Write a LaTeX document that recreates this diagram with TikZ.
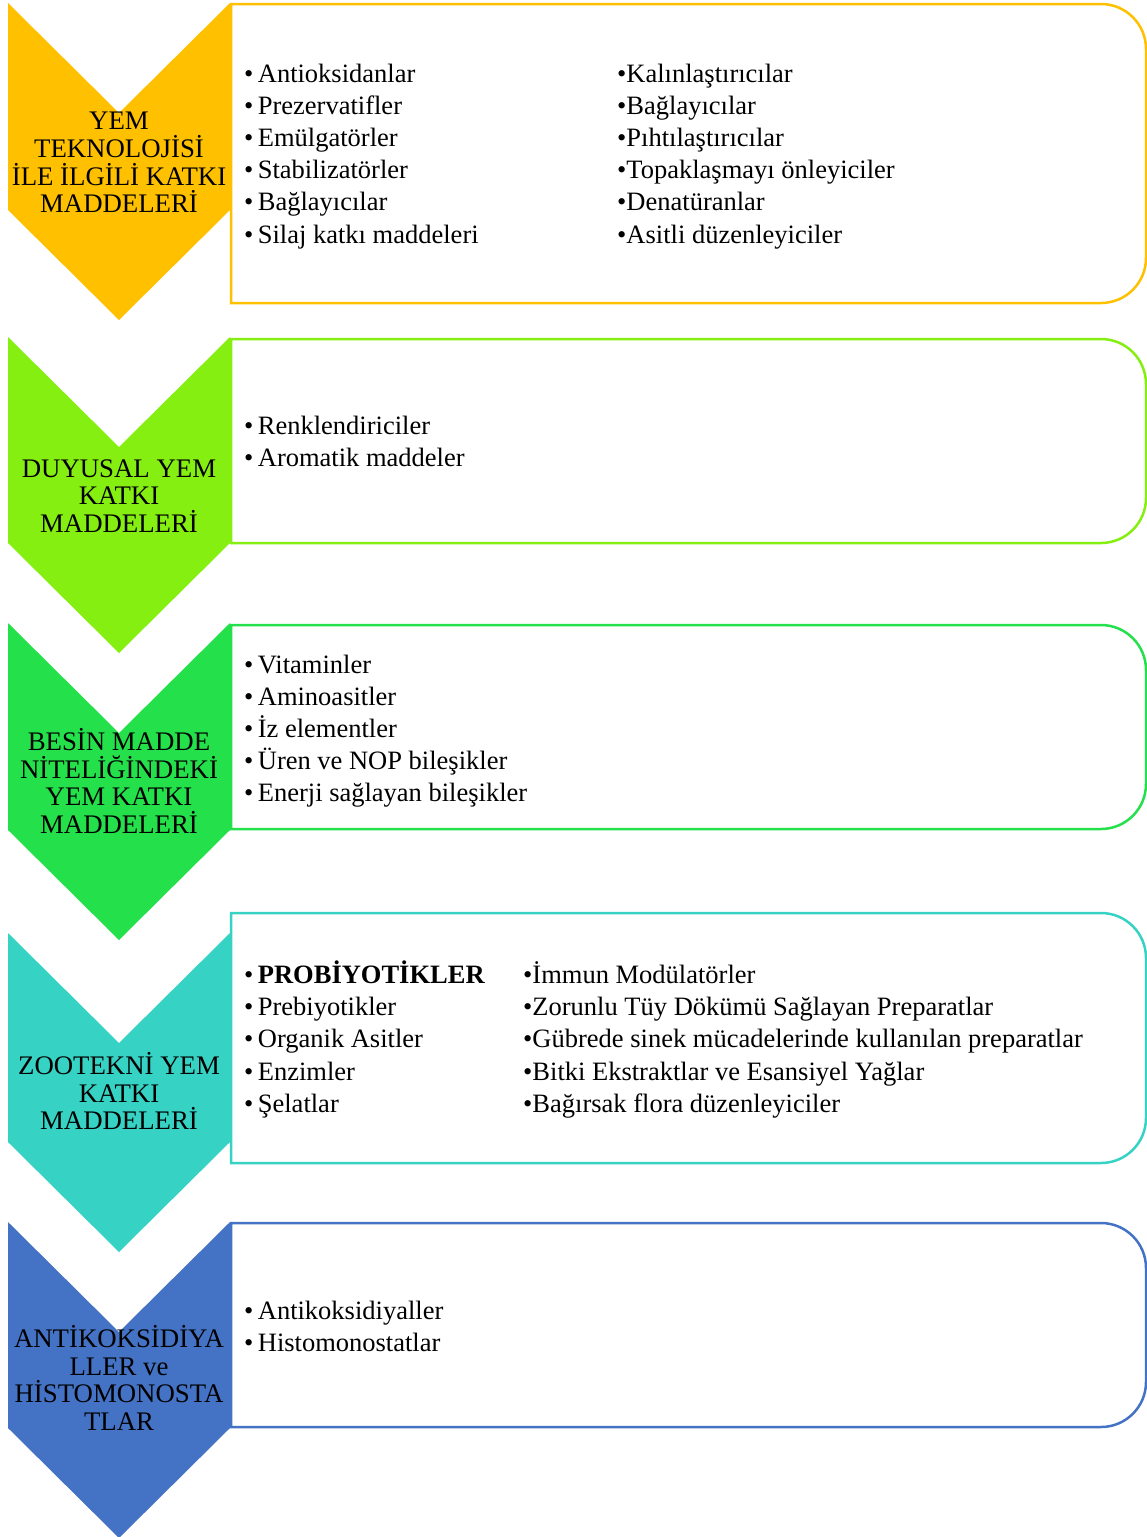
\documentclass[tikz,border=0pt]{standalone}
\usepackage{fontspec}
\setmainfont{Liberation Serif}
\usepackage{xcolor}
\definecolor{catyellow}{HTML}{FFC000}
\definecolor{catlime}{HTML}{86EF12}
\definecolor{catgreen}{HTML}{24E04A}
\definecolor{catteal}{HTML}{36D2C4}
\definecolor{catblue}{HTML}{4472C4}

\begin{document}
\begin{tikzpicture}[x=1pt,y=-1pt,
  panel/.style={draw=#1,line width=2.5pt,fill=white},
  title/.style={align=center,inner sep=0pt,font=\fontsize{26.8}{27.7}\selectfont},
  item/.style={anchor=base west,inner sep=0pt,font=\fontsize{26.5}{32}\selectfont}]
  \useasboundingbox (0,0) rectangle (1147,1537);

  % panels on the right
  \foreach \t/\b/\c in {4/303/catyellow,339/543/catlime,625/829/catgreen,
                        913/1163/catteal,1223/1427/catblue}
    \draw[panel=\c] (231,\b) -- (231,\t) [rounded corners=45pt] -- (1146,\t)
      -- (1146,\b) [sharp corners] -- cycle;

  % chevrons on the left
  \foreach \t/\e/\c in {3/210/catyellow,337/543/catlime,623/830/catgreen,
                        933/1142/catteal,1222/1428/catblue}
    \fill[\c] (8,\t) -- (119,\t+110) -- (230,\t) -- (230,\e) -- (119,\e+110)
      -- (8,\e) -- cycle;

  \node[title] (lab1) at (119,162.5) {YEM\\TEKNOLOJİSİ\\İLE İLGİLİ KATKI\\MADDELERİ};
  \node[title] (lab2) at (119,496) {DUYUSAL YEM\\KATKI\\MADDELERİ};
  \node[title] (lab3) at (119,781) {BESİN MADDE\\NİTELİĞİNDEKİ\\YEM KATKI\\MADDELERİ};
  \node[title] (lab4) at (119,1091) {ZOOTEKNİ YEM\\KATKI\\MADDELERİ};
  \node[title] (lab5) at (119,1378) {ANTİKOKSİDİYA\\LLER ve\\HİSTOMONOSTA\\TLAR};

  % items
  \foreach \s [count=\i] in {Antioksidanlar,Prezervatifler,Emülgatörler,
      Stabilizatörler,Bağlayıcılar,Silaj katkı maddeleri}
    \node[item] (a\i) at (244,82+32.2*\i-32.2) {•\,\s};
  \foreach \s [count=\i] in {Kalınlaştırıcılar,Bağlayıcılar,Pıhtılaştırıcılar,
      Topaklaşmayı önleyiciler,Denatüranlar,Asitli düzenleyiciler}
    \node[item] (b\i) at (617,82+32.2*\i-32.2) {•\s};
  \foreach \s [count=\i] in {Renklendiriciler,Aromatik maddeler}
    \node[item] (c\i) at (244,434+32.2*\i-32.2) {•\,\s};
  \foreach \s [count=\i] in {Vitaminler,Aminoasitler,İz elementler,
      Üren ve NOP bileşikler,Enerji sağlayan bileşikler}
    \node[item] (d\i) at (244,673+32.2*\i-32.2) {•\,\s};
  \foreach \s [count=\i] in {\textbf{PROBİYOTİKLER},Prebiyotikler,Organik Asitler,
      Enzimler,Şelatlar}
    \node[item] (e\i) at (244,983+32.4*\i-32.4) {•\,\s};
  \foreach \s [count=\i] in {İmmun Modülatörler,Zorunlu Tüy Dökümü Sağlayan Preparatlar,
      Gübrede sinek mücadelerinde kullanılan preparatlar,
      Bitki Ekstraktlar ve Esansiyel Yağlar,Bağırsak flora düzenleyiciler}
    \node[item] (f\i) at (523,983+32.4*\i-32.4) {•\s};
  \foreach \s [count=\i] in {Antikoksidiyaller,Histomonostatlar}
    \node[item] (g\i) at (244,1319+32.6*\i-32.6) {•\,\s};
\end{tikzpicture}
\end{document}
